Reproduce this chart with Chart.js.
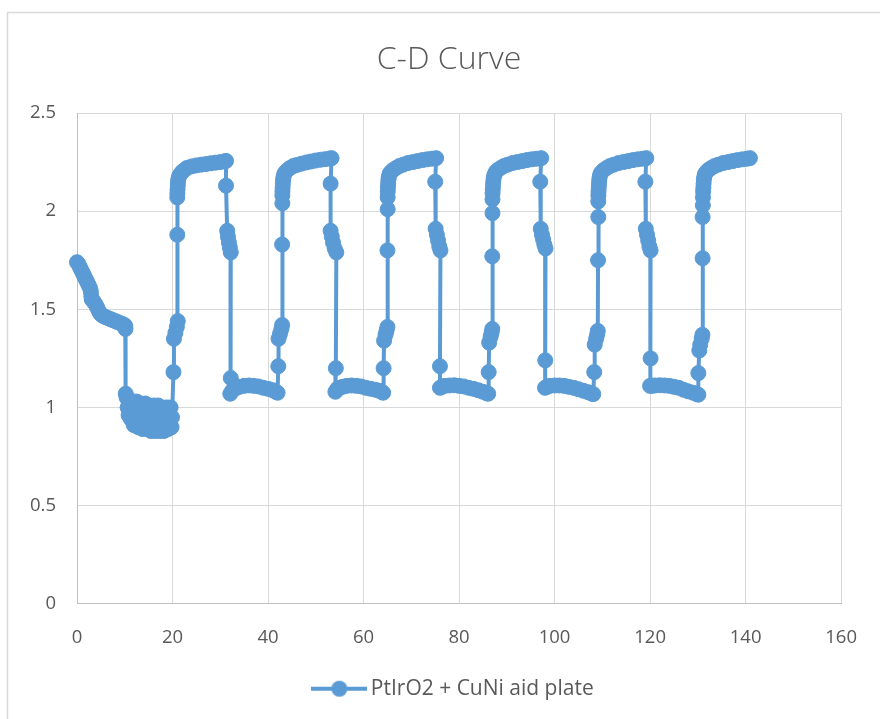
<!DOCTYPE html>
<html>
<head>
<meta charset="utf-8">
<script src="https://cdn.jsdelivr.net/npm/chart.js@4.4.1/dist/chart.umd.min.js"></script>
<style>
  html, body { margin: 0; padding: 0; background: #ffffff; }
  #chart { display: block; }
</style>
</head>
<body>
<canvas id="chart" width="880" height="719"></canvas>
<script>
// Charge–discharge record: [time, potential (V)] pairs, one array per phase.
const initialDecay = [
  [0.0,1.74],[0.3,1.73],[0.6,1.715],[0.9,1.70],[1.2,1.685],[1.5,1.67],[1.8,1.655],
  [2.1,1.64],[2.4,1.625],[2.7,1.61],[2.9,1.59],[3.0,1.565],[3.1,1.55],[3.3,1.545],
  [3.6,1.535],[3.9,1.525],[4.2,1.51],[4.5,1.495],[4.8,1.48],[5.2,1.47],[5.6,1.465],
  [6.0,1.46],[6.5,1.455],[7.0,1.45],[7.5,1.445],[8.0,1.44],[8.5,1.435],[9.0,1.43],
  [9.5,1.425],[9.9,1.42],[10.1,1.415],[10.15,1.40]
];
const lowRegion = [
  [10.2,1.07],[10.4,1.05],[10.6,1.00],[10.8,0.96],[11.0,1.04],[11.3,0.94],[11.6,1.02],
  [11.9,0.91],[12.2,0.97],[12.5,1.03],[12.8,0.90],[13.1,0.95],[13.4,1.02],[13.7,0.89],
  [14.0,0.94],[14.3,1.02],[14.6,0.89],[14.9,0.95],[15.2,1.01],[15.5,0.88],[15.8,0.94],
  [16.1,1.01],[16.4,0.88],[16.7,0.94],[17.0,1.01],[17.3,0.88],[17.6,0.94],[17.9,1.00],
  [18.2,0.88],[18.5,0.94],[18.8,1.00],[19.1,0.89],[19.4,0.95],[19.6,1.00],[19.8,0.90],
  [19.9,0.95]
];
const charge1 = [
  [20.2,1.18],[20.3,1.35],[20.6,1.38],[20.9,1.41],[21.1,1.44],[21.0,1.88],[21.0,2.07],
  [21.02,2.09],[21.05,2.11],[21.1,2.13],[21.15,2.15],[21.25,2.165],[21.4,2.18],
  [21.7,2.19],[22.0,2.20],[22.5,2.21],[23.0,2.22],[24.0,2.228],[25.0,2.233],[26.0,2.237],
  [27.0,2.24],[28.0,2.244],[29.0,2.247],[30.0,2.25],[31.0,2.254],[31.2,2.256]
];
const discharge1 = [
  [31.2,2.13],[31.45,1.90],[31.6,1.87],[31.8,1.84],[32.0,1.815],[32.2,1.79],[32.2,1.15],
  [32.1,1.07],[32.5,1.085],[32.9,1.095],[33.4,1.10],[34.0,1.105],[35.0,1.11],[36.0,1.112],
  [37.0,1.11],[38.0,1.107],[39.0,1.10],[40.0,1.095],[41.0,1.088],[41.6,1.08],[42.0,1.075]
];
const charge2 = [
  [42.15,1.21],[42.2,1.35],[42.5,1.375],[42.8,1.40],[42.95,1.42],[42.95,1.83],[43.0,2.04],
  [43.0,2.08],[43.02,2.10],[43.05,2.12],[43.1,2.14],[43.15,2.16],[43.25,2.175],[43.4,2.19],
  [43.7,2.20],[44.1,2.21],[44.6,2.22],[45.3,2.23],[46.0,2.235],[47.0,2.242],[48.0,2.248],
  [49.0,2.253],[50.0,2.258],[51.0,2.262],[52.0,2.265],[53.0,2.268],[53.3,2.27]
];
const discharge2 = [
  [53.1,2.14],[53.1,1.90],[53.35,1.87],[53.6,1.84],[53.95,1.81],[54.3,1.79],[54.2,1.20],
  [54.1,1.08],[54.5,1.095],[55.0,1.10],[55.6,1.105],[56.5,1.11],[57.5,1.112],[58.5,1.11],
  [59.5,1.107],[60.5,1.10],[61.5,1.095],[62.5,1.09],[63.3,1.085],[63.9,1.078],[64.1,1.075]
];
const charge3 = [
  [64.2,1.20],[64.3,1.34],[64.6,1.37],[64.8,1.39],[65.0,1.41],[65.0,1.80],[65.05,2.01],
  [65.05,2.07],[65.07,2.10],[65.1,2.12],[65.15,2.14],[65.2,2.16],[65.3,2.175],[65.45,2.19],
  [65.75,2.20],[66.2,2.21],[66.8,2.22],[67.5,2.23],[68.3,2.237],[69.3,2.245],[70.3,2.25],
  [71.3,2.255],[72.3,2.26],[73.3,2.264],[74.3,2.267],[75.2,2.27]
];
const discharge3 = [
  [75.0,2.15],[75.1,1.91],[75.35,1.88],[75.6,1.85],[75.85,1.82],[76.1,1.80],[76.0,1.21],
  [76.0,1.10],[76.4,1.105],[77.0,1.11],[78.0,1.112],[79.0,1.113],[80.0,1.11],[81.0,1.107],
  [82.0,1.10],[83.0,1.095],[84.0,1.088],[85.0,1.08],[85.8,1.072],[86.1,1.07]
];
const charge4 = [
  [86.2,1.18],[86.3,1.33],[86.6,1.36],[86.8,1.38],[86.95,1.40],[86.95,1.77],[87.0,1.99],
  [87.0,2.06],[87.02,2.09],[87.05,2.11],[87.1,2.13],[87.15,2.15],[87.25,2.17],[87.4,2.185],
  [87.7,2.20],[88.1,2.21],[88.7,2.22],[89.4,2.23],[90.2,2.237],[91.2,2.245],[92.2,2.25],
  [93.2,2.255],[94.2,2.26],[95.2,2.264],[96.2,2.267],[97.2,2.27]
];
const discharge4 = [
  [97.0,2.15],[97.1,1.91],[97.35,1.88],[97.6,1.855],[97.85,1.83],[98.1,1.81],[98.05,1.24],
  [98.0,1.10],[98.4,1.105],[99.0,1.11],[100.0,1.112],[101.0,1.112],[102.0,1.11],
  [103.0,1.105],[104.0,1.10],[105.0,1.093],[106.0,1.085],[107.0,1.078],[107.8,1.07],
  [108.1,1.068]
];
const charge5 = [
  [108.3,1.18],[108.4,1.32],[108.7,1.35],[108.9,1.37],[109.05,1.39],[109.1,1.75],
  [109.15,1.97],[109.15,2.05],[109.17,2.08],[109.2,2.10],[109.25,2.12],[109.3,2.14],
  [109.35,2.16],[109.45,2.175],[109.6,2.19],[109.9,2.20],[110.3,2.21],[110.9,2.22],
  [111.6,2.23],[112.4,2.237],[113.4,2.245],[114.4,2.25],[115.4,2.255],[116.4,2.26],
  [117.4,2.264],[118.4,2.267],[119.2,2.27]
];
const discharge5 = [
  [119.0,2.15],[119.1,1.91],[119.35,1.88],[119.6,1.85],[119.85,1.82],[120.1,1.80],
  [120.1,1.25],[120.0,1.11],[120.4,1.11],[121.0,1.112],[122.0,1.113],[123.0,1.112],
  [124.0,1.11],[125.0,1.105],[126.0,1.10],[127.0,1.09],[128.0,1.082],[129.0,1.075],
  [129.8,1.068],[130.1,1.065]
];
const charge6 = [
  [130.1,1.175],[130.3,1.29],[130.5,1.32],[130.8,1.35],[130.95,1.37],[131.0,1.76],
  [131.0,1.97],[131.05,2.03],[131.07,2.07],[131.1,2.10],[131.15,2.12],[131.2,2.14],
  [131.25,2.16],[131.35,2.175],[131.5,2.19],[131.8,2.20],[132.2,2.21],[132.8,2.22],
  [133.5,2.23],[134.3,2.237],[135.3,2.245],[136.3,2.25],[137.3,2.255],[138.3,2.26],
  [139.3,2.264],[140.3,2.267],[140.9,2.27]
];

const seriesName = 'PtIrO2 + CuNi aid plate';
const chartTitle = 'C-D Curve';
const xTicks = { min: 0, max: 160, step: 20 };
const yTicks = { min: 0, max: 2.5, step: 0.5 };

const phases = [
  initialDecay, lowRegion,
  charge1, discharge1, charge2, discharge2, charge3, discharge3,
  charge4, discharge4, charge5, discharge5, charge6
];
const points = phases.flat().map(([x, y]) => ({ x, y }));

const BLUE = '#5B9BD5';
const TEXT = '#595959';
const FONT = "'Open Sans', 'Noto Sans', sans-serif";

// Legend swatch: a short line with a marker in the middle
const swatch = document.createElement('canvas');
swatch.width = 56; swatch.height = 18;
(function () {
  const c = swatch.getContext('2d');
  c.strokeStyle = BLUE; c.lineWidth = 4;
  c.beginPath(); c.moveTo(0, 9); c.lineTo(56, 9); c.stroke();
  c.fillStyle = BLUE;
  c.beginPath(); c.arc(28, 9, 8, 0, Math.PI * 2); c.fill();
})();

// Outer frame, white background, and centring of title/legend across the frame
const framePlugin = {
  id: 'frame',
  afterLayout(chart) {
    if (chart.titleBlock) { chart.titleBlock.left = 18; chart.titleBlock.right = 880; }
    if (chart.legend) { chart.legend.left = 32; chart.legend.right = 880; }
  },
  beforeDraw(chart) {
    const ctx = chart.ctx;
    ctx.save();
    ctx.fillStyle = '#ffffff';
    ctx.fillRect(0, 0, chart.width, chart.height);
    ctx.strokeStyle = '#D9D9D9';
    ctx.lineWidth = 1.5;
    ctx.strokeRect(7.5, 12.5, 1000, 1000);
    ctx.restore();
  }
};

new Chart(document.getElementById('chart'), {
  type: 'scatter',
  data: {
    datasets: [{
      label: seriesName,
      data: points,
      showLine: true,
      clip: false,
      borderColor: BLUE,
      backgroundColor: BLUE,
      borderWidth: 4,
      borderJoinStyle: 'round',
      borderCapStyle: 'round',
      pointRadius: 7.5,
      pointBorderWidth: 1,
      pointHoverRadius: 7.5,
      tension: 0
    }]
  },
  options: {
    responsive: false,
    animation: false,
    devicePixelRatio: 1,
    layout: { padding: { left: 0, right: 35, top: 0, bottom: 9.75 } },
    plugins: {
      title: {
        display: true,
        text: chartTitle,
        color: TEXT,
        font: { family: FONT, size: 32, weight: 300 },
        padding: { top: 41, bottom: 33.6 }
      },
      legend: {
        position: 'bottom',
        labels: {
          usePointStyle: true,
          pointStyleWidth: 42,
          padding: 10,
          color: TEXT,
          font: { family: FONT, size: 21 },
          generateLabels: () => [{
            text: seriesName,
            pointStyle: swatch,
            fillStyle: BLUE,
            strokeStyle: BLUE,
            lineWidth: 0,
            fontColor: TEXT,
            datasetIndex: 0,
            hidden: false
          }]
        }
      },
      tooltip: { enabled: false }
    },
    scales: {
      x: {
        type: 'linear',
        min: xTicks.min,
        max: xTicks.max,
        afterFit: (s) => { s.height = 64.5; },
        ticks: {
          stepSize: xTicks.step,
          color: TEXT,
          padding: 23,
          maxRotation: 0,
          font: { family: FONT, size: 18.5 },
          callback: (v) => String(v)
        },
        grid: { color: '#D9D9D9', lineWidth: 1, drawTicks: false },
        border: { color: '#BFBFBF', width: 1 }
      },
      y: {
        min: yTicks.min,
        max: yTicks.max,
        afterFit: (s) => { s.width = 77; },
        ticks: {
          stepSize: yTicks.step,
          color: TEXT,
          padding: 21,
          font: { family: FONT, size: 18.5 },
          callback: (v) => String(v)
        },
        grid: { color: '#D9D9D9', lineWidth: 1, drawTicks: false },
        border: { color: '#BFBFBF', width: 1 }
      }
    }
  },
  plugins: [framePlugin]
});
</script>
</body>
</html>
